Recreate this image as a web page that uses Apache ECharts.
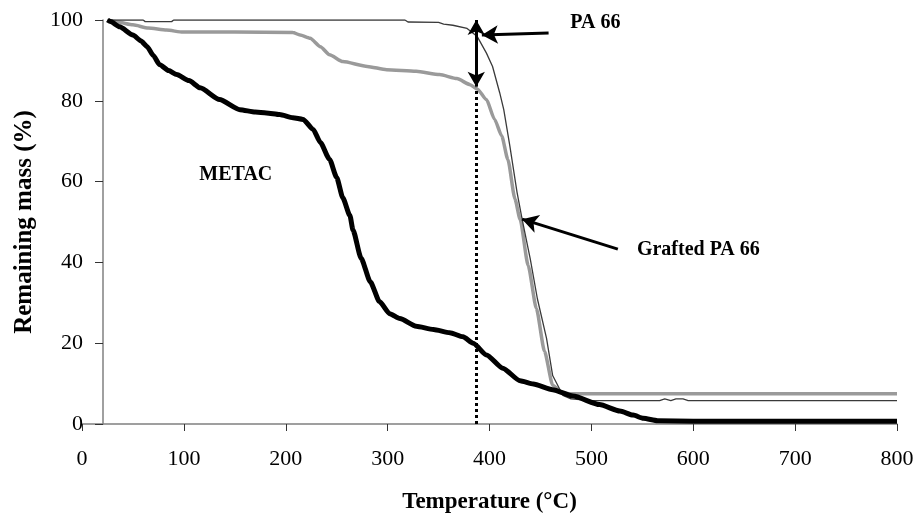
<!DOCTYPE html>
<html>
<head>
<meta charset="utf-8">
<script src="https://cdn.jsdelivr.net/npm/echarts@6/dist/echarts.min.js"></script>
<style>html,body{margin:0;padding:0;background:#fff;}#c{width:917px;height:519px;}</style>
</head>
<body>
<div id="c"></div>
<script>
// Data (temperature °C, remaining mass %)
var metacData = [[25,100],[28,99.6],[37,98.3],[50,96.3],[58,94.8],[64,93.4],[70,91.2],[76,89],[85,87.5],[93,86.5],[105,85],[116,83.2],[135,80.3],[155,77.8],[170,77.2],[181,77],[194,76.6],[207,75.8],[217,75.4],[227,72.9],[234,69.7],[243,65.5],[250,61],[256,56],[263,51.6],[266,48],[274,41],[283,35.2],[292,30.3],[302,27.3],[312,26.1],[328,24.2],[345,23.4],[361,22.6],[374,21.6],[384,20],[397,17.1],[413,13.8],[430,10.7],[443,9.9],[462,8.5],[482,6.9],[508,4.8],[528,3.2],[541,2.2],[551,1.4],[565,0.8],[600,0.7],[700,0.7],[800,0.7]];
var graftedData = [[25,100],[35,99.5],[50,98.8],[65,98],[83,97.5],[99,97],[150,97],[207,96.9],[214,96.3],[224,95.5],[234,93.4],[243,91.4],[256,89.7],[280,88.5],[299,87.7],[328,87.3],[351,86.5],[368,85.5],[381,84],[388,82.9],[397,80.3],[405,75.4],[412,71.3],[418,65.5],[425,55.7],[430,50.7],[438,39.2],[446,28.6],[454,18],[462,9.6],[472,7.6],[480,7.5],[800,7.5]];
var pa66Data = [[25,100],[60,100],[62,99.6],[88,99.6],[90,100],[317,100],[320,99.5],[350,99.4],[355,99],[364,98.7],[378,97.9],[388,95.9],[397,91.8],[403,88.5],[410,82],[414,77.8],[420,68.8],[427,57.4],[432,50.7],[440,40.9],[447,31],[456,21.2],[462,12],[472,7.1],[480,6.2],[500,5.8],[567,5.8],[572,6.2],[578,5.8],[583,6.2],[590,6.2],[595,5.8],[800,5.8]];
var seriesNames = ['Grafted PA 66', 'PA 66', 'METAC'];
var markerTemp = 387;       // vertical dotted marker
var markerTop = 83.2;       // where dotted line meets grafted curve
var arrowPA = [[458, 96.8], [392.5, 96.3]];
var arrowGrafted = [[526, 43.3], [432, 50.7]];
var labels = [
  {text: 'PA 66', coord: [504, 99.4]},
  {text: 'METAC', coord: [151, 61.7]},
  {text: 'Grafted PA 66', coord: [605, 43.2]}
];

var serif = '"Liberation Serif", "Times New Roman", serif';
var chart = echarts.init(document.getElementById('c'));
chart.setOption({
  animation: false,
  backgroundColor: '#fff',
  grid: {left: 82, right: 20, top: 20, bottom: 93, containLabel: false},
  xAxis: {
    type: 'value', min: 0, max: 800, interval: 100,
    name: 'Temperature (°C)', nameLocation: 'middle', nameGap: 67,
    nameTextStyle: {fontFamily: serif, fontWeight: 'bold', fontSize: 23, color: '#000'},
    axisLine: {lineStyle: {color: '#808080', width: 1.5}},
    axisTick: {show: true, length: 7, lineStyle: {color: '#333', width: 1}},
    axisLabel: {fontFamily: serif, fontSize: 22, color: '#000', margin: 24},
    splitLine: {show: false}
  },
  yAxis: {
    type: 'value', min: 0, max: 100, interval: 20, offset: -21,
    name: 'Remaining mass (%)', nameLocation: 'middle', nameGap: 66,
    nameTextStyle: {fontFamily: serif, fontWeight: 'bold', fontSize: 25, color: '#000'},
    axisLine: {show: true, lineStyle: {color: '#808080', width: 1.5}},
    axisTick: {show: true, length: 8, lineStyle: {color: '#333', width: 1}},
    axisLabel: {fontFamily: serif, fontSize: 22, color: '#000', margin: 20},
    splitLine: {show: false}
  },
  series: [
    {
      name: seriesNames[0], type: 'line', data: graftedData, showSymbol: false, symbol: 'none',
      smooth: 0.2, smoothMonotone: 'x',
      lineStyle: {color: '#9a9a9a', width: 3.5}, z: 2,
      markLine: {
        silent: true, animation: false,
        label: {show: false},
        data: [
          [{coord: [markerTemp, 0], symbol: 'none', lineStyle: {color: '#000', width: 3, type: 'dotted'}},
           {coord: [markerTemp, markerTop], symbol: 'none'}]
        ]
      }
    },
    {
      name: seriesNames[1], type: 'line', data: pa66Data, showSymbol: false, symbol: 'none',
      lineStyle: {color: '#3a3a3a', width: 1.3}, z: 3
    },
    {
      name: seriesNames[2], type: 'line', data: metacData, showSymbol: false, symbol: 'none',
      smooth: 0.2, smoothMonotone: 'x',
      lineStyle: {color: '#000', width: 5}, z: 4,
      markLine: {
        silent: true, animation: false, z: 10,
        label: {show: false},
        symbol: ['arrow', 'arrow'],
        data: [
          [{coord: [markerTemp, 100], symbol: 'arrow', symbolSize: [13, 15], lineStyle: {color: '#000', width: 3, type: 'solid'}},
           {coord: [markerTemp, 83.5], symbol: 'arrow', symbolSize: [13, 15]}],
          [{coord: arrowPA[0], symbol: 'none', lineStyle: {color: '#000', width: 3, type: 'solid'}},
           {coord: arrowPA[1], symbol: 'arrow', symbolSize: [14, 16]}],
          [{coord: arrowGrafted[0], symbol: 'none', lineStyle: {color: '#000', width: 3, type: 'solid'}},
           {coord: arrowGrafted[1], symbol: 'arrow', symbolSize: [14, 16]}]
        ]
      },
      markPoint: {
        silent: true, animation: false,
        symbol: 'circle', symbolSize: 0,
        label: {show: true, position: 'inside', fontFamily: serif, fontWeight: 'bold', fontSize: 20, color: '#000'},
        data: labels.map(function (l) { return {coord: l.coord, value: l.text, label: {formatter: l.text}}; })
      }
    }
  ]
});
</script>
</body>
</html>
